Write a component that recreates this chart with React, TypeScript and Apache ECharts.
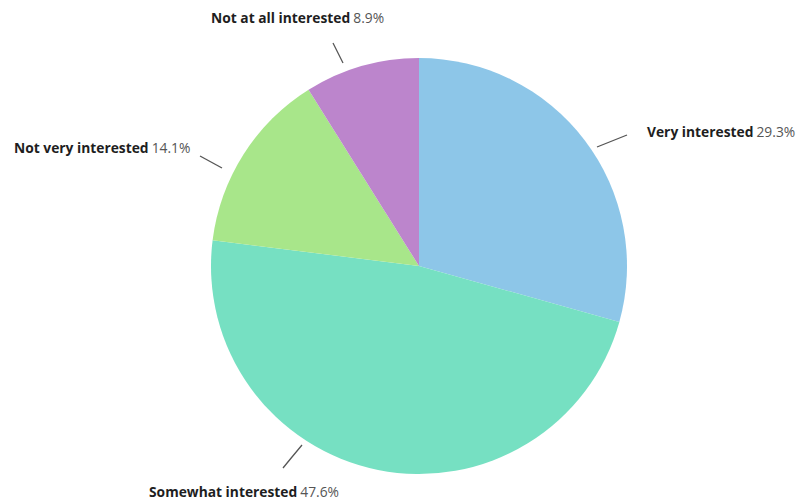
import React, { useEffect, useRef } from "react";
import * as echarts from "echarts";

const categories = ["Very interested", "Somewhat interested", "Not very interested", "Not at all interested"];
const values = [29.3, 47.6, 14.1, 8.9];
const colors = ["#8DC6E8", "#76E0C2", "#A8E68A", "#BC85CC"];

// label anchor positions (annotation layout)
const labelAnchors = [
  { x: 647, y: 131, line: [[597, 147], [612, 141], [627, 135]] },
  { x: 149, y: 491, line: [[302, 445], [292, 457], [283, 468]] },
  { x: 14, y: 147, line: [[222, 168], [211, 162], [200, 156]] },
  { x: 211, y: 17, line: [[343, 63], [338, 53], [333, 43]] },
];

export default function App() {
  const ref = useRef<HTMLDivElement>(null);
  useEffect(() => {
    document.body.style.margin = "0";
    const chart = echarts.init(ref.current!, undefined, { renderer: "svg" });
    chart.setOption({
      animation: false,
      backgroundColor: "#ffffff",
      series: [
        {
          type: "pie",
          center: [419, 266],
          radius: 208,
          startAngle: 90,
          clockwise: true,
          data: categories.map((name, i) => ({
            name,
            value: values[i],
            itemStyle: { color: colors[i] },
          })),
          label: {
            show: true,
            fontFamily: "Open Sans",
            formatter: (p: any) => `{b|${p.name}} {v|${p.value}%}`,
            rich: {
              b: { fontFamily: "Open Sans", fontWeight: "bold", fontSize: 13.8, color: "#1e1e1e" },
              v: { fontFamily: "Open Sans", fontSize: 13.8, color: "#555555" },
            },
          },
          labelLine: {
            show: true,
            lineStyle: { color: "#555555", width: 1.3 },
          },
          labelLayout: (params: any) => {
            const a = labelAnchors[params.dataIndex];
            return {
              x: a.x,
              y: a.y,
              align: "left",
              verticalAlign: "middle",
              labelLinePoints: a.line,
            };
          },
        },
      ],
    });
    return () => chart.dispose();
  }, []);
  return <div ref={ref} style={{ width: 797, height: 500 }} />;
}
